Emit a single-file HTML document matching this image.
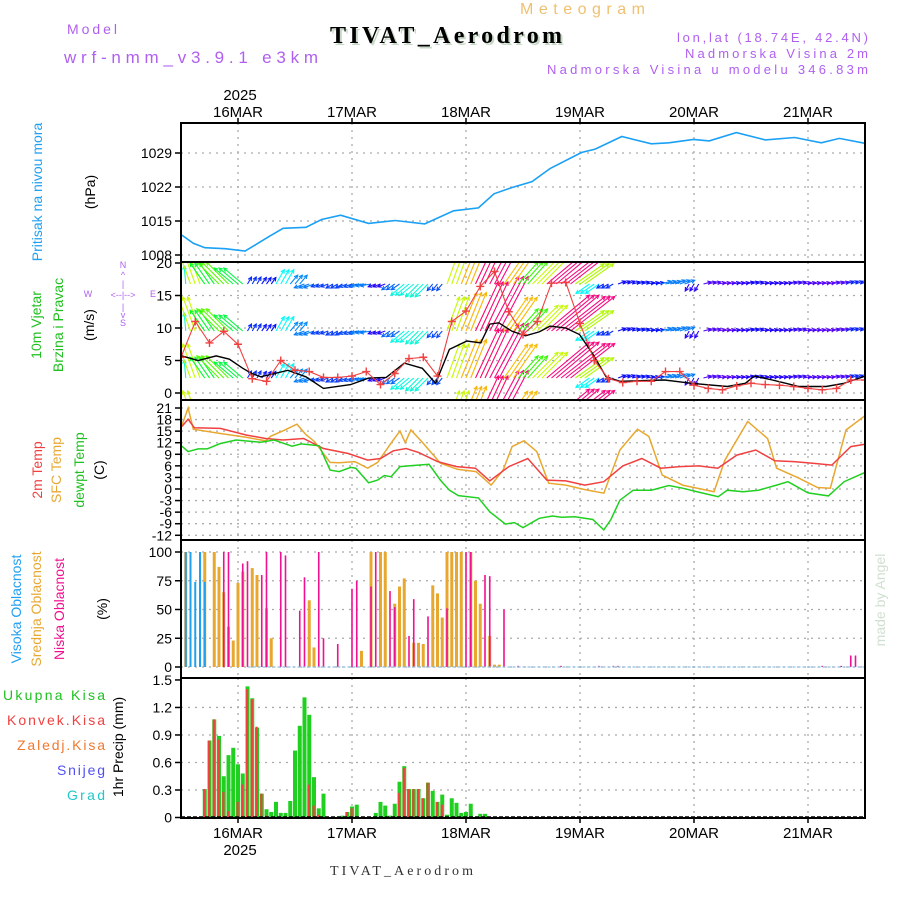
<!DOCTYPE html>
<html><head><meta charset="utf-8"><style>
html,body{margin:0;padding:0;background:#fff;}
svg{display:block;font-family:"Liberation Sans",sans-serif;}
</style></head><body>
<svg id="chart" width="900" height="900" viewBox="0 0 900 900" xmlns="http://www.w3.org/2000/svg">
<defs>
<clipPath id="c1"><rect x="181" y="123" width="684" height="139"/></clipPath>
<clipPath id="c2"><rect x="181" y="263" width="684" height="137"/></clipPath>
<clipPath id="c3"><rect x="181" y="401" width="684" height="139"/></clipPath>
<clipPath id="c4"><rect x="181" y="541" width="684" height="137"/></clipPath>
<clipPath id="c5"><rect x="181" y="679" width="684" height="139"/></clipPath>
</defs>
<g>
<text x="67" y="34" font-size="14" fill="#b060f0" textLength="50" lengthAdjust="spacing">Model</text>
<text x="64" y="63" font-size="17" fill="#b060f0" textLength="254" lengthAdjust="spacing">wrf-nmm_v3.9.1 e3km</text>
<text x="332" y="45" font-size="24" font-weight="bold" font-family="Liberation Serif, serif" fill="#c8d8c8" textLength="232" lengthAdjust="spacing">TIVAT_Aerodrom</text>
<text x="330" y="43" font-size="24" font-weight="bold" font-family="Liberation Serif, serif" fill="#000" textLength="232" lengthAdjust="spacing">TIVAT_Aerodrom</text>
<text x="520" y="14" font-size="16" fill="#f0c070" textLength="125" lengthAdjust="spacing">Meteogram</text>
<text x="677" y="42" font-size="13" fill="#b060f0" textLength="191" lengthAdjust="spacing">lon,lat (18.74E, 42.4N)</text>
<text x="685" y="58" font-size="13" fill="#b060f0" textLength="183" lengthAdjust="spacing">Nadmorska Visina 2m</text>
<text x="547" y="74" font-size="13" fill="#b060f0" textLength="321" lengthAdjust="spacing">Nadmorska Visina u modelu 346.83m</text>
<text x="240" y="100" font-size="15" text-anchor="middle">2025</text>
</g>
<g id="axes"></g>
<g>
<text transform="translate(42,192) rotate(-90)" font-size="14" fill="#20a0f0" text-anchor="middle">Pritisak na nivou mora</text>
<text transform="translate(95,192) rotate(-90)" font-size="14" text-anchor="middle">(hPa)</text>
<text transform="translate(41,325) rotate(-90)" font-size="14" fill="#20c020" text-anchor="middle">10m Vjetar</text>
<text transform="translate(63,325) rotate(-90)" font-size="14" fill="#20c020" text-anchor="middle">Brzina i Pravac</text>
<text transform="translate(94,325) rotate(-90)" font-size="14" text-anchor="middle">(m/s)</text>
<g fill="#b060f0" font-size="9" text-anchor="middle">
<text x="123" y="268">N</text><text x="123" y="278">^</text><text x="123" y="287">|</text>
<text x="88" y="297">W</text><text x="123" y="298">&lt;--|--&gt;</text><text x="153" y="297">E</text>
<text x="123" y="310">|</text><text x="123" y="318">v</text><text x="123" y="326">S</text>
</g>
<text transform="translate(42,470) rotate(-90)" font-size="14" fill="#f04040" text-anchor="middle">2m Temp</text>
<text transform="translate(61,470) rotate(-90)" font-size="14" fill="#e8a830" text-anchor="middle">SFC Temp</text>
<text transform="translate(84,470) rotate(-90)" font-size="14" fill="#20c020" text-anchor="middle">dewpt Temp</text>
<text transform="translate(104,470) rotate(-90)" font-size="14" text-anchor="middle">(C)</text>
<text transform="translate(21,609) rotate(-90)" font-size="14" fill="#20a0f0" text-anchor="middle">Visoka Oblacnost</text>
<text transform="translate(41,609) rotate(-90)" font-size="14" fill="#e8a830" text-anchor="middle">Srednja Oblacnost</text>
<text transform="translate(64,609) rotate(-90)" font-size="14" fill="#f01090" text-anchor="middle">Niska Oblacnost</text>
<text transform="translate(107,609) rotate(-90)" font-size="14" text-anchor="middle">(%)</text>
<text x="3" y="700" font-size="14" fill="#20c020" textLength="102" lengthAdjust="spacing">Ukupna Kisa</text>
<text x="7" y="725" font-size="14" fill="#f04040" textLength="98" lengthAdjust="spacing">Konvek.Kisa</text>
<text x="17" y="750" font-size="14" fill="#f07830" textLength="88" lengthAdjust="spacing">Zaledj.Kisa</text>
<text x="57" y="775" font-size="14" fill="#5050f0" textLength="48" lengthAdjust="spacing">Snijeg</text>
<text x="67" y="800" font-size="14" fill="#20c8c8" textLength="38" lengthAdjust="spacing">Grad</text>
<text transform="translate(123,747) rotate(-90)" font-size="14" text-anchor="middle">1hr Precip (mm)</text>
<text transform="translate(885,600) rotate(-90)" font-size="14" fill="#d0e0d0" text-anchor="middle">made by Angel</text>
<text x="240" y="855" font-size="15" text-anchor="middle">2025</text>
<text x="330" y="875" font-size="14" font-family="Liberation Serif, serif" fill="#333" textLength="143" lengthAdjust="spacing">TIVAT_Aerodrom</text>
</g>
<g id="plots"></g>
</svg>
<script>
// ---- data (hour offset from 15MAR 12Z) ----
const dayLabels = ["16MAR","17MAR","18MAR","19MAR","20MAR","21MAR"];
const dayHours = [12,36,60,84,108,132];
const presTicks = [1008,1015,1022,1029];
const windTicks = [0,5,10,15,20];
const tempTicks = [21,18,15,12,9,6,3,0,-3,-6,-9,-12];
const cloudTicks = [0,25,50,75,100];
const precipTicks = [0,0.3,0.6,0.9,1.2,1.5];

const presHours = [0.2,2.6,5,9.3,13.5,18.7,21.5,26.3,29.6,33.6,39.5,45.1,51.3,57.4,62.6,65.9,69.7,73.9,77.7,84.3,87.2,92.8,99,102.7,107.9,111.2,116.9,123,129.2,134.8,138.6,144];
const presVals = [1012.1,1010.4,1009.5,1009.3,1008.8,1011.9,1013.5,1013.7,1015.3,1016.2,1014.5,1015.1,1014.4,1017.1,1017.7,1020.6,1021.9,1023.1,1025.8,1029.1,1029.8,1032.4,1030.9,1031.1,1031.8,1031.5,1033.2,1031.7,1032.2,1031.1,1032,1031];

// wind every 3 hours
const windSpeed = [5.5,11,7.7,9.5,7.5,2.2,1.8,5,3.5,3.3,2.4,2.4,2.6,3.3,1.3,3,5.3,5.5,2.6,11,12.6,16.4,18.7,12.5,9,11,16.9,17,10.7,5,2.2,1.6,1.8,1.8,3.3,3.3,1.2,0.7,0.5,1.1,1.5,1.3,1.2,1,0.7,0.5,0.7,2,2];
const windDir = [95,110,125,135,140,60,55,60,50,200,200,210,200,190,200,215,220,225,230,70,68,65,62,55,48,45,40,38,35,215,210,20,15,10,15,20,240,15,10,10,15,10,10,15,10,10,15,20,20];
const windAvgHours = [0.2,3.6,7.4,10.2,13,14.9,16.8,22.5,26.3,30,35.7,39.5,43.2,47,50.8,53.6,56.5,60.2,63.1,65,66.9,69.7,72.5,75.4,77.7,81,83.9,86.7,89.5,92.4,101.8,107.5,115,118.8,120.7,124.5,130.1,135.8,139.6,144];
const windAvgVals = [5.7,5.0,5.7,5.2,3.8,3.0,2.5,3.5,2.5,0.7,1.3,2.3,2.4,4.6,3.8,1.5,6.7,8,7.7,10.6,10.8,9.5,8.8,9.4,10.3,10,9,6,2.5,1.8,2,1.5,1,1.5,2.6,2,1,1,1.5,2.6];

const t2Hours = [0.2,1.5,2.8,8.3,13.7,17.8,21.5,25.8,30,35.2,39.3,42,44.7,47.4,50,54,58,62,65,69,73,77,81,85,89,93,97,101,105,109,113,117,121,125,129,133,137,141,144];
const t2Vals = [16.2,18.1,15.9,15.7,14,13.1,12.7,13.1,10.5,9.2,7.5,7.9,9.9,10.5,9.5,7.1,5.8,5.4,2.1,5.8,7.9,2.3,2.1,1.0,1.9,6.0,7.9,5.4,5.8,6.0,5.4,8.8,10.1,7.3,7.1,6.7,6.2,11,11.6];
const sfcHours = [0.2,1.5,2.6,8.3,13.7,17.8,18.9,21.5,24.4,26.3,28.1,31.4,33.3,36.6,39.3,41.4,44.7,46.1,47.2,48.4,50.8,54.6,58.2,62.1,65.3,67.8,69.7,72.2,74.9,77.4,81,84.8,89,92.4,96.1,98.5,101.3,105.6,112.2,114.5,119.3,123.5,125.4,130.1,134,136.7,140,144];
const sfcVals = [16.5,21,15.5,14.4,13.4,12.5,13.7,15.1,16.8,14.1,12.3,6.9,6.8,7.1,5.4,6.9,12.7,15,12,15.3,12.1,6.7,5.1,4.5,1,4.9,11,12.5,9.7,1.5,1,-0.1,-1.1,10.1,15.5,13.6,3.6,1,-0.7,7.5,17.5,13.1,5.4,2.8,0.4,0.2,15.3,19];
const dewHours = [0.2,1.5,3.6,5.5,8.3,11.6,16.8,19.6,23.4,25.3,29.1,31.4,33.3,35.7,36.8,39.5,41.4,42.8,44.2,46.1,48.9,52.2,54.6,56.5,58.4,62.6,65,68.3,70.2,72,75.4,78.2,80.1,82.9,86.7,89,90.5,92.4,95.2,99,102.7,105.6,109.3,113.1,115,118.3,121.6,125.4,127.8,132,136.3,139.6,144];
const dewVals = [11.1,9.7,10.4,10.4,11.8,12.7,12.1,12.7,11.1,11.7,11.2,4.9,4.5,5.6,5.4,1.6,2.3,3.5,3.2,5.8,6.1,6.4,2.3,-0.3,-1.7,-2.3,-5.9,-9.1,-8.7,-10,-7.6,-7,-7.3,-7.2,-7.9,-10.6,-7.9,-2.9,-0.3,-0.3,0.9,0.2,-0.9,-2,-0.3,-0.7,-0.3,1,1.9,-1,-1.8,1.9,4.3];

const highHours = [0,1,2,3,4,5];
const highVals = [100,100,100,74,100,74];
const midHours = [1,5,7,8,9,10,11,12,13,15,16,18,19,27,28,38,40,42,43,45,46,47,49,50,51,53,54,55,56,57,58,59,61,62,63,65,66,67];
const midVals = [100,100,100,87,65,35,23,73,83,86,80,51,25,58,17,14,100,100,100,55,70,77,21,21,20,71,64,43,100,100,100,100,100,75,55,27,2,2];
const lowHours = [1,5,9,10,13,14,17,18,21,22,25,26,29,30,33,36,37,40,41,44,45,48,49,52,56,60,61,64,65,68,71,80,88,91,92,135,139,141,142];
const lowVals = [100,8,100,100,90,92,80,100,100,97,49,78,100,25,20,68,75,70,100,66,52,27,59,44,51,100,100,80,79,50,1,1,1,1,1,1,1,10,10];

const precipTotal = [0,0,0,0,0,.31,.84,1.07,.89,.45,.68,.76,.58,.48,1.43,1.30,.98,.26,.09,.06,.17,.05,.05,.18,.73,1.0,1.31,1.12,.44,.1,.26,0,0,0,.02,.06,.12,.14,0,0,0,.05,.17,.13,.02,.15,.39,.56,.31,.31,.31,.21,.38,.29,.17,.25,.03,.21,.16,.05,.06,.15,0,.04,.04];
const precipConv = [0,0,0,0,0,.31,.84,1.07,.85,.28,.07,.01,.17,.36,1.40,1.29,.99,.26,.02,0,0,0,0,0,0,0,0,.36,.13,.03,0,0,0,0,0,.06,.1,0,0,0,0,0,0,0,0,0,.27,.54,.31,.31,.31,.21,.38,0,.17,.14,0,0,0,0,0,0,0,0,0];

// ---- scales ----
const NS="http://www.w3.org/2000/svg";
const X0=181, X1=865;
function xH(h){return 181+h*4.75;}
const P={top:123,bot:262}, W={top:262,bot:400}, T={top:400,bot:540}, C={top:540,bot:678}, R={top:678,bot:818};
function yPres(v){return 153+(1029-v)*4.857;}
function yWind(v){return 393-v*6.5;}
function yTemp(v){return 408+(21-v)*3.857;}
function yCloud(v){return 667-v*1.15;}
function yPrec(v){return 817.5-v*91.7;}
const axes=document.getElementById('axes');
const plots=document.getElementById('plots');
function mk(tag,attrs,parent){const e=document.createElementNS(NS,tag);for(const k in attrs)e.setAttribute(k,attrs[k]);(parent||plots).appendChild(e);return e;}

// ---- grids & axes ----
function panel(name,box,ticks,yf,fmt){
  const g=mk('g',{},axes);
  
  
  ticks.forEach(t=>{
    const y=yf(t);
    if(y>box.top+3&&y<box.bot-3){const gl=mk('line',{x1:X0,x2:X1,y1:y,y2:y,stroke:'#aaa','stroke-width':1.3,'stroke-dasharray':'2,5'},g);
      
      }
    mk('line',{x1:X0-6,x2:X0,y1:y,y2:y,stroke:'#000','stroke-width':1.5},g);
    const tx=mk('text',{x:X0-9,y:y+5,'font-size':14,'text-anchor':'end'},g);
    tx.textContent=fmt(t);
    
    
  });
  dayHours.forEach(h=>{
    const vl=mk('line',{x1:xH(h),x2:xH(h),y1:box.top,y2:box.bot,stroke:'#aaa','stroke-width':1.3,'stroke-dasharray':'2,5'},g);
    
    
  });
}
panel('pressure',P,presTicks,yPres,String);
panel('wind',W,windTicks,yWind,String);
panel('temperature',T,tempTicks,yTemp,String);
panel('cloud',C,cloudTicks,yCloud,String);
panel('precip',R,precipTicks,yPrec,v=>v===0?'0':v.toFixed(1));

dayLabels.forEach((d,i)=>{
  const x=xH(dayHours[i]);
  const t1=mk('text',{x:x,y:117,'font-size':15,'text-anchor':'middle'},axes);t1.textContent=d;
  
  
  mk('line',{x1:x,x2:x,y1:118,y2:123,stroke:'#000','stroke-width':1.5},axes);
  const t2=mk('text',{x:x,y:838,'font-size':15,'text-anchor':'middle'},axes);t2.textContent=d;
  
  
  mk('line',{x1:x,x2:x,y1:818,y2:823,stroke:'#000','stroke-width':1.5},axes);
});

function line(hs,vs,yf,color,clip,name,w){
  const d=hs.map((h,i)=>(i?'L':'M')+xH(h).toFixed(1)+','+yf(vs[i]).toFixed(1)).join('');
  const p=mk('path',{d:d,fill:'none',stroke:color,'stroke-width':w||1.4,'clip-path':'url(#'+clip+')'});
  
  
  return p;
}
line(presHours,presVals,yPres,'#1aa0f5','c1','pressure-line',1.6);

// wind arrows
const wg=mk('g',{'clip-path':'url(#c2)'});


function hue(v){let h=270-v*18;if(h<-30)h=-30;return (h+360)%360;}
const rows=[284,331,378,425];
for(let h=0;h<=144;h++){
  const i=Math.min(windSpeed.length-1,Math.round(h/3));
  const v=windSpeed[i], a=windDir[i]*Math.PI/180;
  const L=Math.max(8,Math.min(62,v*3.3));
  const col='hsl('+hue(v)+',95%,50%)';
  rows.forEach(ry=>{
    const x=xH(h), x2=x+L*Math.cos(a), y2=ry-L*Math.sin(a);
    const ar=mk('line',{x1:x,y1:ry,x2:x2,y2:y2,stroke:col,'stroke-width':1.1},wg);
    
    
    const b1=a+Math.PI*0.85,b2=a-Math.PI*0.85;
    mk('path',{d:`M${x2+4*Math.cos(b1)},${y2-4*Math.sin(b1)}L${x2},${y2}L${x2+4*Math.cos(b2)},${y2-4*Math.sin(b2)}`,fill:'none',stroke:col,'stroke-width':1.1},wg);
  });
}
line(windAvgHours,windAvgVals,yWind,'#000','c2','wind-avg-line',1.4);
const wsHours=windSpeed.map((v,i)=>i*3);
line(wsHours,windSpeed,yWind,'#f04040','c2','wind-speed-line',1.1);
wsHours.forEach((h,i)=>{
  const x=xH(h),y=yWind(windSpeed[i]);
  const c=mk('path',{d:`M${x-4},${y}H${x+4}M${x},${y-4}V${y+4}`,stroke:'#f04040','stroke-width':1.4,'clip-path':'url(#c2)'});
  
  
});

line(sfcHours,sfcVals,yTemp,'#e8a830','c3','sfc-temp-line',1.5);
line(t2Hours,t2Vals,yTemp,'#f04040','c3','temp-2m-line',1.5);
line(dewHours,dewVals,yTemp,'#20d020','c3','dewpoint-line',1.5);

function bars(hs,vs,color,w,name){
  hs.forEach((h,i)=>{
    const y=yCloud(vs[i]);
    const r=mk('rect',{x:xH(h)-w/2,y:y,width:w,height:yCloud(0)-y,fill:color,'clip-path':'url(#c4)'});
    
    
  });
}
bars(midHours,midVals,'#e8a830',3,'mid-cloud-bar');
bars(lowHours,lowVals,'#f01090',1.6,'low-cloud-bar');
bars(highHours,highVals,'#20a0f0',2,'high-cloud-bar');
mk('line',{x1:xH(14),x2:X1,y1:667,y2:667,stroke:'#90c0e0','stroke-width':1.2,'stroke-dasharray':'3,2'});

precipTotal.forEach((v,h)=>{
  if(v<=0)return;
  const y=yPrec(v);
  const r=mk('rect',{x:xH(h)-2,y:y,width:4,height:yPrec(0)-y,fill:'#20d020'});
  
  
});
precipConv.forEach((v,h)=>{
  if(v<=0)return;
  const y=yPrec(v);
  const r=mk('rect',{x:xH(h)-1.5,y:y,width:2.2,height:yPrec(0)-y,fill:'#f04040'});
  
  
});
mk('line',{x1:X0,x2:X1,y1:817,y2:817,stroke:'#000','stroke-width':1.5,'stroke-dasharray':'4,2'});

[P,W,T,C,R].forEach(b=>{
  const f=mk('rect',{x:X0,y:b.top,width:X1-X0,height:b.bot-b.top,fill:'none',stroke:'#000','stroke-width':2});
  
  
});
</script>
</body></html>
